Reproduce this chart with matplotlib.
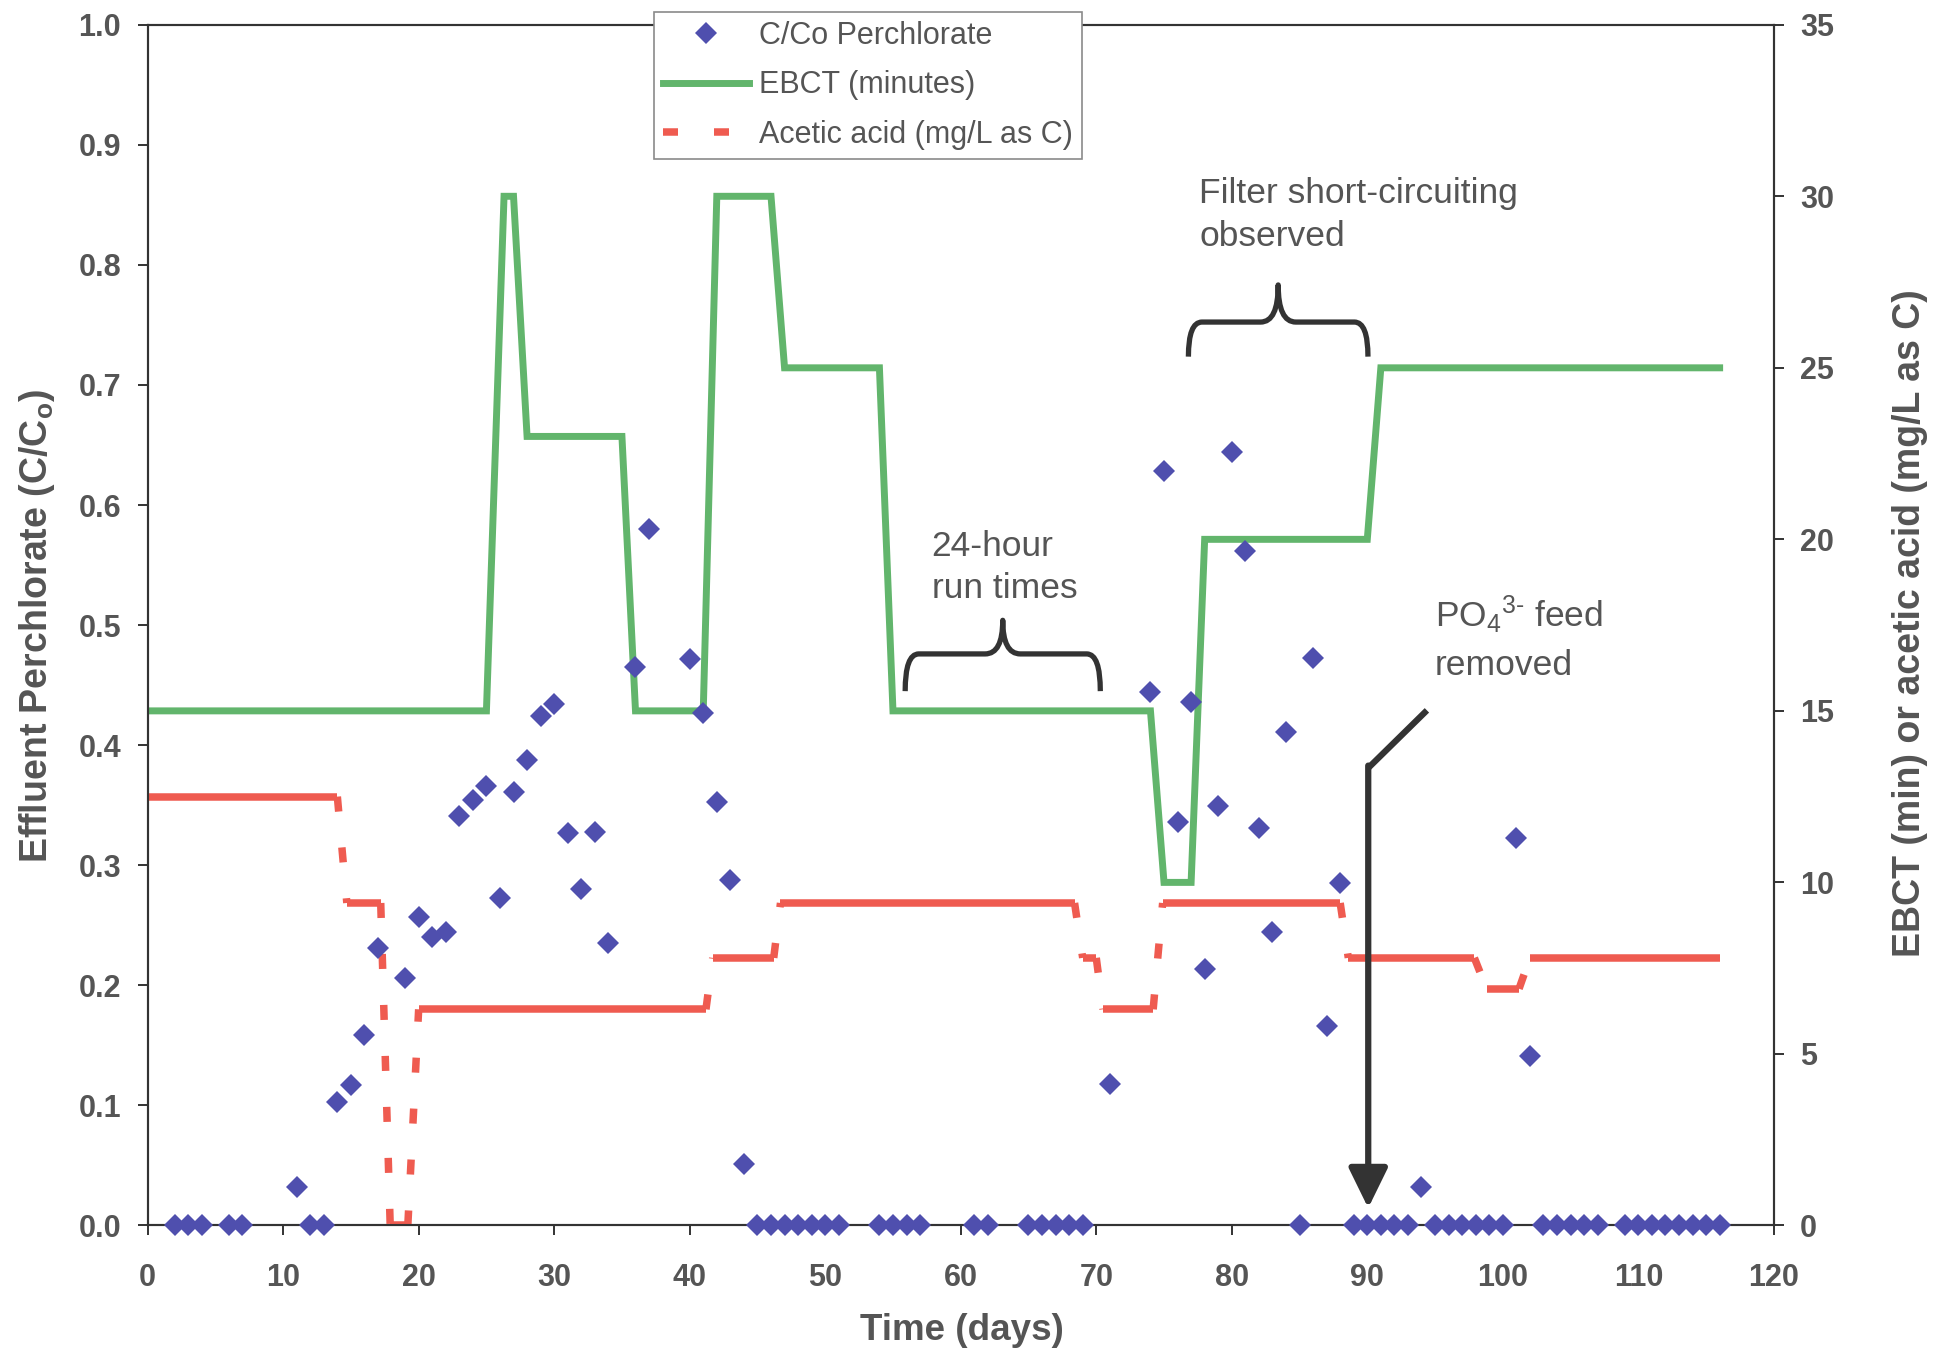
import numpy as np
import matplotlib
matplotlib.use("Agg")
import matplotlib.pyplot as plt
from matplotlib.collections import LineCollection
from matplotlib.lines import Line2D
from matplotlib.path import Path
from matplotlib.patches import PathPatch

plt.rcParams['font.family'] = ['Liberation Sans', 'DejaVu Sans']
plt.rcParams['mathtext.fontset'] = 'custom'
plt.rcParams['mathtext.rm'] = 'Liberation Sans'
plt.rcParams['mathtext.it'] = 'Liberation Sans:italic'
plt.rcParams['mathtext.bf'] = 'Liberation Sans:bold'

# perchlorate effluent, C/Co
days = [2, 3, 4, 6, 7, 11, 12, 13, 14, 15, 16, 17, 19, 20, 21, 22, 23, 24, 25,
        26, 27, 28, 29, 30, 31, 32, 33, 34, 36, 37, 40, 41, 42, 43, 44,
        45, 46, 47, 48, 49, 50, 51, 54, 55, 56, 57, 61, 62,
        65, 66, 67, 68, 69, 71, 74, 75, 76, 77, 78, 79, 80, 81, 82, 83, 84,
        85, 86, 87, 88, 89, 90, 91, 92, 93, 94, 95, 96, 97, 98, 99, 100,
        101, 102, 103, 104, 105, 106, 107, 109, 110, 111, 112, 113, 114, 115, 116]
cco = [0, 0, 0, 0, 0, 0.032, 0, 0, 0.103, 0.117, 0.159, 0.231, 0.206, 0.257, 0.240, 0.244, 0.341, 0.354, 0.366,
       0.273, 0.361, 0.388, 0.424, 0.434, 0.327, 0.280, 0.328, 0.235, 0.465, 0.580, 0.472, 0.427, 0.353, 0.288, 0.051,
       0, 0, 0, 0, 0, 0, 0, 0, 0, 0, 0, 0, 0,
       0, 0, 0, 0, 0, 0.118, 0.444, 0.628, 0.336, 0.436, 0.214, 0.349, 0.644, 0.562, 0.331, 0.244, 0.411,
       0, 0.473, 0.166, 0.285, 0, 0, 0, 0, 0, 0.032, 0, 0, 0, 0, 0, 0,
       0.323, 0.141, 0, 0, 0, 0, 0, 0, 0, 0, 0, 0, 0, 0, 0]

# empty bed contact time (minutes)
ebct_days = [0, 25, 26.3, 27, 28, 35, 36, 41, 42, 46, 47, 54, 55, 74, 75, 77, 78, 90, 91, 116]
ebct_min = [15, 15, 30, 30, 23, 23, 15, 15, 30, 30, 25, 25, 15, 15, 10, 10, 20, 20, 25, 25]

# acetic acid dose (mg/L as C)
acid_days = [0, 14, 14.7, 17.2, 17.9, 19.2, 20, 41.2, 41.7, 46.2, 46.7, 68.4, 69, 70, 70.5,
             74.2, 74.9, 88, 88.6, 97.9, 98.8, 101.2, 102, 116]
acid_mgl = [12.5, 12.5, 9.4, 9.4, 0, 0, 6.3, 6.3, 7.8, 7.8, 9.4, 9.4, 7.8, 7.8, 6.3,
            6.3, 9.4, 9.4, 7.8, 7.8, 6.9, 6.9, 7.8, 7.8]

x_ticks = list(range(0, 121, 10))
y_ticks = [i / 10 for i in range(11)]
y2_ticks = list(range(0, 36, 5))

BLUE = '#4f4fae'
GREEN = '#62b56c'
RED = '#ef5b50'
TXT = '#555555'
INK = '#333333'


def daily_segments(xs, ys):
    # break the polyline into pieces no longer than a day so the dash restarts
    segs = []
    for x0, y0, x1, y1 in zip(xs[:-1], ys[:-1], xs[1:], ys[1:]):
        n = max(1, int(np.ceil(x1 - x0 - 1e-9)))
        for k in range(n):
            a, b = k / n, (k + 1) / n
            segs.append([(x0 + (x1 - x0) * a, y0 + (y1 - y0) * a),
                         (x0 + (x1 - x0) * b, y0 + (y1 - y0) * b)])
    return segs


def brace(ax, x0, x1, y_end, y_mid, y_tip, r_end=1.0, r_tip=1.3):
    xc = (x0 + x1) / 2
    verts = [(x0, y_end), (x0, y_mid), (x0 + r_end, y_mid),
             (xc - r_tip, y_mid), (xc, y_mid), (xc, y_tip),
             (xc, y_mid), (xc + r_tip, y_mid),
             (x1 - r_end, y_mid), (x1, y_mid), (x1, y_end)]
    codes = [Path.MOVETO, Path.CURVE3, Path.CURVE3,
             Path.LINETO, Path.CURVE3, Path.CURVE3,
             Path.CURVE3, Path.CURVE3,
             Path.LINETO, Path.CURVE3, Path.CURVE3]
    ax.add_patch(PathPatch(Path(verts, codes), fill=False, lw=3.8, ec=INK,
                           capstyle='butt', joinstyle='round', zorder=6))


fig = plt.figure(figsize=(19.45, 13.61), dpi=100)
ax = fig.add_axes([0.0759, 0.0996, 0.8361, 0.8822])
ax2 = ax.twinx()
ax.set_zorder(ax2.get_zorder() + 1)
ax.patch.set_visible(False)

ax2.plot(ebct_days, ebct_min, color=GREEN, lw=5.0, solid_joinstyle='miter', zorder=2)
red_lc = LineCollection(daily_segments(acid_days, acid_mgl), colors=RED, linewidths=5.4,
                        linestyles=[(0, (2.0, 4.8))], capstyle='butt', zorder=3)
ax2.add_collection(red_lc)

ax.plot(days, cco, 'D', color=BLUE, markersize=11.5, markeredgewidth=0,
        clip_on=False, zorder=5)

ax.set_xlim(0, 120)
ax.set_ylim(0, 1.0)
ax2.set_ylim(0, 35)

tick_font = dict(fontfamily='Liberation Sans', fontweight='bold', fontsize=22)
ax.set_xticks(x_ticks)
ax.set_xticklabels([str(v) for v in x_ticks], **tick_font)
ax.set_yticks(y_ticks)
ax.set_yticklabels(['%.1f' % v for v in y_ticks], **tick_font)
ax2.set_yticks(y2_ticks)
ax2.set_yticklabels([str(v) for v in y2_ticks], **tick_font)

ax.tick_params(axis='x', direction='out', length=7, width=1.4, color=INK, labelcolor=TXT, pad=20)
ax.tick_params(axis='y', direction='out', length=7, width=1.4, color=INK, labelcolor=TXT, pad=12)
ax2.tick_params(axis='y', direction='out', length=7, width=1.4, color=INK, labelcolor=TXT, pad=12)
for a in (ax, ax2):
    for s in a.spines.values():
        s.set_color(INK)
        s.set_linewidth(1.5)

fig.text(37 / 1945, 1 - 626 / 1361, r'Effluent Perchlorate (C/C$_\mathbf{o}$)', rotation=90,
         ha='center', va='center', fontsize=27, fontweight='bold', color=TXT)
fig.text(1910 / 1945, 1 - 623 / 1361, 'EBCT (min) or acetic acid (mg/L as C)', rotation=90,
         ha='center', va='center', fontsize=27, fontweight='bold', color=TXT)
fig.text(962 / 1945, 1 - 1340 / 1361, 'Time (days)', ha='center', va='baseline',
         fontsize=26.5, fontweight='bold', color=TXT)

# notes on the run
note = dict(ha='left', va='top', fontsize=25.5, color=TXT, zorder=6)
ax.text(57.85, 0.579, '24-hour\nrun times', linespacing=1.32, **note)
brace(ax, 55.9, 70.3, 0.445, 0.476, 0.504)
ax.text(77.6, 0.873, 'Filter short-circuiting\nobserved', linespacing=1.38, **note)
brace(ax, 76.8, 90.05, 0.7236, 0.7524, 0.7833)
ax.text(95.0, 0.526, 'PO$_4$$^{3\\text{-}}$ feed\nremoved', linespacing=1.5, **note)
ax.plot([94.4, 90.07], [0.429, 0.381], color=INK, lw=4.5, solid_capstyle='butt', zorder=6)
ax.annotate('', xy=(90.07, 0.0145), xytext=(90.07, 0.383),
            arrowprops=dict(arrowstyle='-|>,head_length=0.98,head_width=0.48', mutation_scale=25,
                            lw=4.5, color=INK, shrinkA=0, shrinkB=0), zorder=6)

handles = [Line2D([], [], ls='none', marker='D', color=BLUE, markersize=11.5, markeredgewidth=0),
           Line2D([], [], color=GREEN, lw=5.0),
           Line2D([], [], color=RED, lw=5.4, ls=(0, (2.0, 4.8)), dash_capstyle='butt')]
labels = ['C/Co Perchlorate', 'EBCT (minutes)', 'Acetic acid (mg/L as C)']
leg = ax.legend(handles, labels, loc='upper left', bbox_to_anchor=(0.3114, 1.0107),
                fontsize=22, frameon=True, fancybox=False, edgecolor='#8a8a8a',
                handlelength=2.8, handletextpad=0.35, labelspacing=0.63, borderpad=0.3,
                borderaxespad=0, framealpha=1)
leg.get_frame().set_linewidth(1.2)
leg.set_zorder(10)
for t in leg.get_texts():
    t.set_color(TXT)

fig.savefig('out.png', dpi=100, facecolor='white')
